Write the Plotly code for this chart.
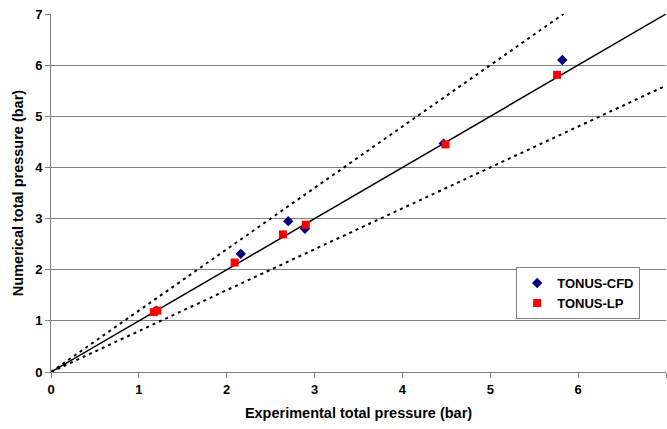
import plotly.graph_objects as go

cfd_x = [1.20, 2.16, 2.70, 2.89, 4.47, 5.82]
cfd_y = [1.20, 2.31, 2.95, 2.80, 4.47, 6.10]
lp_x = [1.17, 1.21, 2.09, 2.64, 2.90, 4.49, 5.76]
lp_y = [1.17, 1.20, 2.14, 2.69, 2.88, 4.45, 5.81]
ref_x = [0, 7]
ref_y = [0, 7]
upper_x = [0, 7 / 1.2]
upper_y = [0, 7]
lower_x = [0, 7]
lower_y = [0, 5.6]
ticks = [0, 1, 2, 3, 4, 5, 6, 7]

fig = go.Figure()
fig.add_trace(go.Scatter(x=upper_x, y=upper_y, mode="lines", showlegend=False,
                         line=dict(color="black", width=2, dash="3px,4px"), hoverinfo="skip"))
fig.add_trace(go.Scatter(x=lower_x, y=lower_y, mode="lines", showlegend=False,
                         line=dict(color="black", width=2, dash="3px,4px"), hoverinfo="skip"))
fig.add_trace(go.Scatter(x=ref_x, y=ref_y, mode="lines", showlegend=False,
                         line=dict(color="black", width=1.5), hoverinfo="skip"))
fig.add_trace(go.Scatter(x=cfd_x, y=cfd_y, mode="markers", name="TONUS-CFD",
                         marker=dict(symbol="diamond", color="#000080", size=8)))
fig.add_trace(go.Scatter(x=lp_x, y=lp_y, mode="markers", name="TONUS-LP",
                         marker=dict(symbol="square", color="#ff0000", size=8)))

fam = "Liberation Sans, Arial, sans-serif"
fig.update_layout(
    width=667, height=429,
    margin=dict(l=51, r=1, t=14, b=57),
    paper_bgcolor="white", plot_bgcolor="white",
    font=dict(family=fam, size=12, color="black"),
    legend=dict(x=0.958, y=0.293, xanchor="right", yanchor="top",
                bgcolor="white", bordercolor="#808080", borderwidth=1,
                font=dict(family=fam, size=13, color="black", weight="bold"),
                itemwidth=30, tracegroupgap=0),
    modebar=dict(bgcolor="rgba(0,0,0,0)", color="rgba(0,0,0,0)", activecolor="rgba(0,0,0,0)"),
)
fig.update_xaxes(range=[0, 7], tickvals=ticks, ticktext=[str(t) for t in ticks],
                 showgrid=False, zeroline=False, showline=True, linecolor="#808080",
                 ticks="outside", ticklen=5, tickcolor="#808080", automargin=False,
                 tickfont=dict(family=fam, weight="bold", size=13),
                 title=dict(text="<b>Experimental total pressure (bar)</b>", standoff=12,
                            font=dict(family=fam, size=14.5, color="black")))
fig.update_yaxes(range=[0, 7], tickvals=ticks, ticktext=[str(t) for t in ticks],
                 showgrid=True, gridcolor="#808080", gridwidth=1, zeroline=False,
                 showline=True, linecolor="#808080", automargin=False,
                 ticks="outside", ticklen=5, tickcolor="#808080",
                 tickfont=dict(family=fam, weight="bold", size=13),
                 title=dict(text="<b>Numerical total pressure (bar)</b>", standoff=8,
                            font=dict(family=fam, size=14.5, color="black")))
fig.write_html("out.html", config={"displayModeBar": False},
               post_script="document.body.style.margin='0';document.body.style.overflow='hidden';")
